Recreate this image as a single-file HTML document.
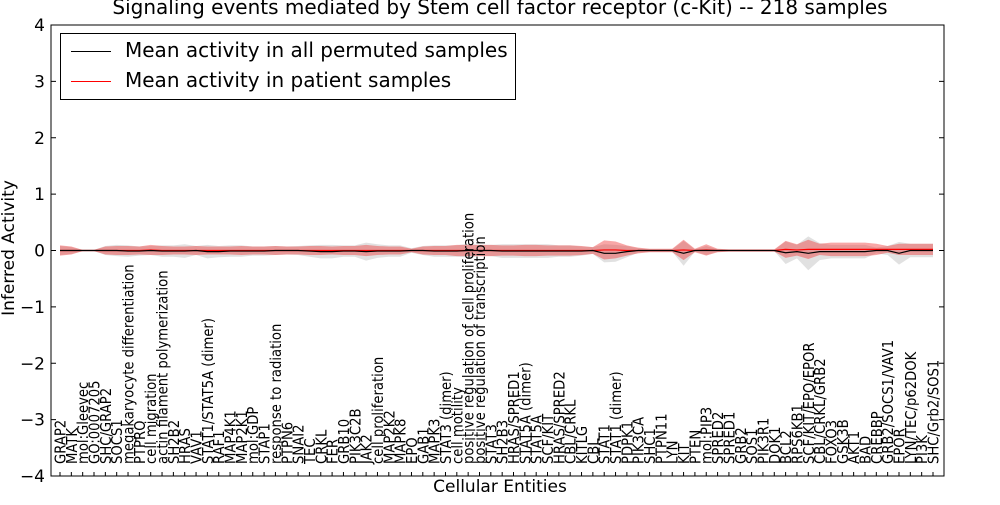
<!DOCTYPE html>
<html><head><meta charset="utf-8"><style>
body{margin:0;background:#fff;font-family:"Liberation Sans","DejaVu Sans",sans-serif;}
svg text{font-family:"DejaVu Sans","Liberation Sans",sans-serif;}
</style></head><body>
<svg id="chart" width="1000" height="500" xmlns="http://www.w3.org/2000/svg"></svg>
<script>
const categories=["GRAP2","MATK","mol:Gleevec","GO:0007205","SHC/GRAP2","SOCS1","megakaryocyte differentiation","PTPRO","cell migration","actin filament polymerization","SH2B2","HRAS","VAV1","STAT1/STAT5A (dimer)","RAF1","MAP4K1","MAP2K1","mol:GDP","STAP1","response to radiation","PTPN6","SNAI2","TEC","CRKL","FER","GRB10","PIK3C2B","JAK2","cell proliferation","MAP2K2","MAPK8","EPO","GAB1","MAPK3","STAT3 (dimer)","cell motility","positive regulation of cell proliferation","positive regulation of transcription","STAT3","SH2B3","HRAS/SPRED1","STAT5A (dimer)","STAT5A","SCF/KIT","HRAS/SPRED2","CBL/CRKL","KITLG","CBL","STAT1","STAT1 (dimer)","PDPK1","PIK3CA","SHC1","PTPN11","LYN","KIT","PTEN","mol:PIP3","SPRED2","SPRED1","GRB2","SOS1","PIK3R1","DOK1","BCL2","RPS6KB1","SCF/KIT/EPO/EPOR","CBL/CRKL/GRB2","FOXO3","GSK3B","AKT1","BAD","CREBBP","GRB2/SOCS1/VAV1","EPOR","LYN/TEC/p62DOK","PI3K","SHC/Grb2/SOS1"];
const patientMean=[0,0,0,0,0,0,0,0,0.01,0,0,0,0,0,0,0,0,0,0,0,0,0,0,0,0,0,0,0,0,0,0,0,0,0,0,0,0,0,0,0,0,0,0,0,0,0,0,0,0.01,0.01,0,0,0,0,0,0.01,0,0.01,0,0,0,0,0,0,0.02,0.01,0.02,0.02,0.02,0.02,0.02,0.02,0.02,0.02,0.02,0.02,0.02,0.02];
const permMean=[0,0,0,0,0,0,-0.01,-0.01,0,-0.01,-0.01,-0.01,0,-0.02,-0.02,-0.01,-0.01,-0.01,-0.01,0,0,0,-0.01,-0.02,-0.02,-0.01,-0.01,-0.02,-0.01,-0.01,-0.01,0,0,-0.01,-0.01,-0.01,0,0,0,-0.01,-0.01,-0.01,-0.01,-0.01,-0.01,-0.01,-0.01,0,-0.05,-0.05,-0.02,0,0,0,0,-0.05,0,0,0,0,0,0,0,0,-0.04,-0.02,-0.05,-0.02,-0.02,-0.02,-0.02,-0.02,0,0,-0.05,0,0,0];
const redHalf=[0.09,0.07,0.01,0.01,0.07,0.08,0.08,0.07,0.09,0.08,0.07,0.07,0.08,0.07,0.07,0.07,0.08,0.07,0.07,0.08,0.07,0.07,0.08,0.08,0.07,0.08,0.08,0.1,0.08,0.07,0.07,0.03,0.07,0.08,0.08,0.1,0.1,0.1,0.1,0.09,0.09,0.1,0.1,0.09,0.09,0.09,0.08,0.06,0.17,0.15,0.09,0.05,0.03,0.03,0.03,0.18,0.03,0.1,0.03,0.02,0.02,0.02,0.02,0.02,0.15,0.1,0.17,0.1,0.12,0.12,0.12,0.12,0.1,0.06,0.1,0.1,0.1,0.1];
const grayHalf=[0.08,0.06,0.01,0.01,0.08,0.1,0.1,0.08,0.08,0.1,0.1,0.12,0.08,0.12,0.1,0.1,0.1,0.08,0.08,0.08,0.07,0.08,0.1,0.12,0.12,0.1,0.1,0.16,0.12,0.1,0.1,0.04,0.08,0.1,0.1,0.1,0.12,0.1,0.1,0.12,0.12,0.12,0.12,0.12,0.1,0.1,0.08,0.06,0.16,0.15,0.1,0.04,0.02,0.02,0.02,0.22,0.02,0.08,0.02,0.01,0.01,0.01,0.01,0.01,0.2,0.12,0.3,0.15,0.12,0.12,0.12,0.12,0.05,0.08,0.2,0.12,0.12,0.12];
const yTicks=[-4,-3,-2,-1,0,1,2,3,4];

const NS="http://www.w3.org/2000/svg";
const svg=document.getElementById('chart');
const L=51,R=944,T=25,B=476;
const n=categories.length;
const xs=i=>60+i*(933-60)/(n-1);
const ys=v=>T+(4-v)*(B-T)/8;
function mk(tag,attrs,parent){const e=document.createElementNS(NS,tag);for(const k in attrs)e.setAttribute(k,attrs[k]);(parent||svg).appendChild(e);return e;}
function band(center,half,fill,name){
  let d="";
  for(let i=0;i<n;i++)d+=(i?"L":"M")+xs(i)+","+ys(center[i]+half[i]);
  for(let i=n-1;i>=0;i--)d+="L"+xs(i)+","+ys(center[i]-half[i]);
  const p=mk('path',{d:d+"Z",fill:fill});
  
  
}
band(permMean,grayHalf,"rgba(180,180,180,0.4)","permuted-band");
band(patientMean,redHalf,"rgba(240,60,60,0.45)","patient-band");
function line(vals,stroke,name){
  const p=mk('polyline',{points:vals.map((v,i)=>xs(i)+","+ys(v)).join(" "),fill:"none",stroke:stroke,"stroke-width":1.2});
  
  
}
line(patientMean,"#f00","patient-mean-line");
line(permMean,"#000","permuted-mean-line");
const fr=mk('rect',{x:L,y:T,width:R-L,height:B-T,fill:"none",stroke:"#000","stroke-width":1});


yTicks.forEach(t=>{
  const y=ys(t);
  mk('line',{x1:L,x2:L+5,y1:y,y2:y,stroke:"#000"});
  mk('line',{x1:R,x2:R-5,y1:y,y2:y,stroke:"#000"});
  const tx=mk('text',{x:L-6,y:y+6,"text-anchor":"end","font-size":17});
  tx.textContent=(t<0?"\u2212":"")+Math.abs(t);
  
  
});
categories.forEach((c,i)=>{
  const x=xs(i);
  mk('line',{x1:x,x2:x,y1:B,y2:B-4,stroke:"#000"});
  const tx=mk('text',{x:0,y:0,transform:`translate(${x+5.5},${B-12}) rotate(-90) scale(0.88,1)`,"font-size":15});
  tx.textContent=c;
  
  
});
</script>
<div style="position:absolute;left:0;top:0;width:1000px;height:500px;pointer-events:none">
<div style="position:absolute;left:0;width:1000px;top:-5px;text-align:center;font:20px 'DejaVu Sans','Liberation Sans',sans-serif">Signaling events mediated by Stem cell factor receptor (c-Kit) -- 218 samples</div>
<div style="position:absolute;left:-66px;top:238px;width:150px;text-align:center;transform:rotate(-90deg);font:17px 'DejaVu Sans','Liberation Sans',sans-serif">Inferred Activity</div>
<div style="position:absolute;left:0;width:1000px;top:477px;text-align:center;font:17px 'DejaVu Sans','Liberation Sans',sans-serif">Cellular Entities</div>
<div style="position:absolute;left:60px;top:33px;width:454px;height:65px;border:1px solid #000;background:#fff;font:20px 'DejaVu Sans','Liberation Sans',sans-serif">
 <div style="position:absolute;left:10px;top:4px;white-space:nowrap"><span style="display:inline-block;width:40px;height:1px;background:#000;vertical-align:middle;margin-right:14px"></span>Mean activity in all permuted samples</div>
 <div style="position:absolute;left:10px;top:34px;white-space:nowrap"><span style="display:inline-block;width:40px;height:1px;background:#f00;vertical-align:middle;margin-right:14px"></span>Mean activity in patient samples</div>
</div>
</div>
</body></html>
